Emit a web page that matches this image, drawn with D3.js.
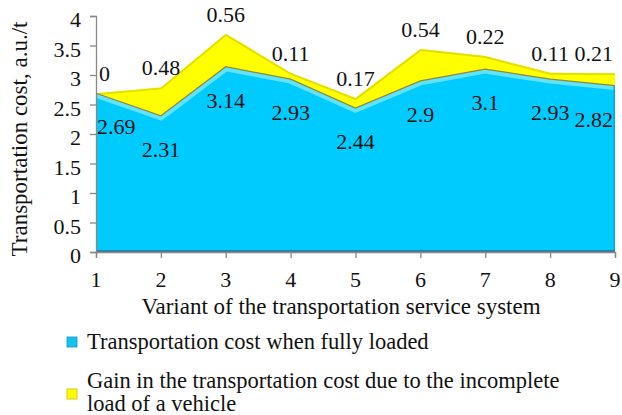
<!doctype html>
<html lang="en">
  <head>
    <meta charset="UTF-8" />
    <title>Transportation cost by variant</title>
    <script src="https://unpkg.com/d3@7.9.0/dist/d3.min.js"></script>
    <style>
      body {
        margin: 0;
        background: #fff;
        overflow: hidden;
      }
      svg text {
        fill: #111;
      }
      .tick-label {
        font-size: 22px;
      }
      .value-label {
        font-size: 22px;
      }
      .axis-title {
        font-size: 23px;
      }
      .legend text {
        font-size: 22.5px;
      }
    </style>
  </head>
  <body>
    <svg width="622" height="415"></svg>

    <script>
      // data
      const variants = [1, 2, 3, 4, 5, 6, 7, 8, 9];
      const fullLoadCost = [2.69, 2.31, 3.14, 2.93, 2.44, 2.9, 3.1, 2.93, 2.82];
      const incompleteGain = [0, 0.48, 0.56, 0.11, 0.17, 0.54, 0.22, 0.11, 0.21];
      const yTicks = [0, 0.5, 1, 1.5, 2, 2.5, 3, 3.5, 4];
      const seriesNames = [
        'Transportation cost when fully loaded',
        'Gain in the transportation cost due to the incomplete',
        'load of a vehicle',
      ];

      const serif = "'Liberation Serif', 'Times New Roman', 'DejaVu Serif', serif";
      const svg = d3.select('svg').attr('font-family', serif);
      const margin = { top: 16, right: 7, bottom: 163, left: 96 };
      const width = 622, height = 415;

      const x = d3
        .scalePoint()
        .domain(variants)
        .range([margin.left, width - margin.right]);
      const y = d3
        .scaleLinear()
        .domain([0, 4])
        .range([height - margin.bottom, margin.top]);

      const rows = variants.map((v, i) => ({
        v,
        base: fullLoadCost[i],
        gain: incompleteGain[i],
      }));

      // stacked areas
      const stack = d3.stack().keys(['base', 'gain'])(rows);

      const area = d3
        .area()
        .x((d) => x(d.data.v))
        .y0((d) => y(d[0]))
        .y1((d) => y(d[1]));

      const topLine = d3
        .line()
        .x((d) => x(d.data.v))
        .y((d) => y(d[1]));

      const defs = svg.append('defs');
      defs
        .append('clipPath')
        .attr('id', 'blueClip')
        .append('path')
        .attr('d', area(stack[0]));
      defs
        .append('clipPath')
        .attr('id', 'yellowClip')
        .append('path')
        .attr('d', area(stack[1]));

      // yellow (gain)
      svg.append('path').attr('d', area(stack[1])).attr('fill', '#ffff00');
      svg
        .append('path')
        .attr('d', topLine(stack[1]))
        .attr('fill', 'none')
        .attr('stroke', '#e3df00')
        .attr('stroke-width', 4)
        .attr('clip-path', 'url(#yellowClip)');

      // blue (full load)
      svg.append('path').attr('d', area(stack[0])).attr('fill', '#00cbff');
      svg
        .append('path')
        .attr('d', topLine(stack[0]))
        .attr('fill', 'none')
        .attr('stroke', '#5fe3ff')
        .attr('stroke-width', 9)
        .attr('clip-path', 'url(#blueClip)');
      svg
        .append('line')
        .attr('x1', x(9))
        .attr('x2', x(9))
        .attr('y1', y(0))
        .attr('y2', y(fullLoadCost[8]))
        .attr('stroke', '#0aa5d8')
        .attr('stroke-width', 3)
        .attr('clip-path', 'url(#blueClip)');
      svg
        .append('path')
        .attr('d', topLine(stack[0]))
        .attr('fill', 'none')
        .attr('stroke', '#8d8a3a')
        .attr('stroke-width', 1.2);
      svg
        .append('line')
        .attr('x1', x(1))
        .attr('x2', x(9))
        .attr('y1', y(0) - 1)
        .attr('y2', y(0) - 1)
        .attr('stroke', '#2f7ea3')
        .attr('stroke-width', 2);

      // axes
      const yAxis = svg
        .append('g')
        .attr('transform', `translate(${margin.left},0)`)
        .call(d3.axisLeft(y).tickValues(yTicks).tickSize(6).tickFormat(''));
      const xAxis = svg
        .append('g')
        .attr('transform', `translate(0,${y(0)})`)
        .call(d3.axisBottom(x).tickSize(6).tickFormat(''));
      [yAxis, xAxis].forEach((a) => {
        a.select('.domain').attr('stroke', '#888').attr('stroke-width', 1.3);
        a.selectAll('.tick line').attr('stroke', '#888').attr('stroke-width', 1.3);
      });

      svg
        .append('g')
        .selectAll('text')
        .data(yTicks)
        .join('text')
        .attr('class', 'tick-label')
        .attr('x', margin.left - 15)
        .attr('y', (d) => y(d) + 11)
        .attr('text-anchor', 'end')
        .text((d) => d);

      svg
        .append('g')
        .selectAll('text')
        .data(variants)
        .join('text')
        .attr('class', 'tick-label')
        .attr('x', (d) => x(d))
        .attr('y', y(0) + 35)
        .attr('text-anchor', 'middle')
        .text((d) => d);

      // value labels
      const anchorFor = (i) =>
        i === 0 ? 'start' : i === variants.length - 1 ? 'end' : 'middle';
      const nudge = (i) => (i === 0 ? 1 : i === variants.length - 1 ? -2 : 0);

      svg
        .append('g')
        .selectAll('text')
        .data(rows)
        .join('text')
        .attr('class', 'value-label')
        .attr('x', (d, i) => x(d.v) + nudge(i))
        .attr('y', (d) => y(d.base) + 41)
        .attr('text-anchor', (d, i) => anchorFor(i))
        .text((d) => d.base);

      svg
        .append('g')
        .selectAll('text')
        .data(rows)
        .join('text')
        .attr('class', 'value-label')
        .attr('x', (d, i) => x(d.v) + nudge(i) + (i === 0 ? 2 : 0))
        .attr('y', (d) => y(d.base + d.gain) - 12)
        .attr('text-anchor', (d, i) => anchorFor(i))
        .text((d) => d.gain);

      // axis titles
      svg
        .append('text')
        .attr('class', 'axis-title')
        .attr('transform', `translate(27,${(y(0) + y(4)) / 2 + 5}) rotate(-90)`)
        .attr('text-anchor', 'middle')
        .text('Transportation cost, a.u./t');

      svg
        .append('text')
        .attr('class', 'axis-title')
        .attr('x', 341)
        .attr('y', 314)
        .attr('text-anchor', 'middle')
        .text('Variant of the transportation service system');

      // legend
      const legend = svg.append('g').attr('class', 'legend');
      const swatch = (yy, fill, stroke) =>
        legend
          .append('rect')
          .attr('x', 67)
          .attr('y', yy)
          .attr('width', 10)
          .attr('height', 10)
          .attr('fill', fill)
          .attr('stroke', stroke)
          .attr('stroke-width', 0.8);
      swatch(337, '#11c3f3', '#1a8fc0');
      swatch(389, '#ffff00', '#c8c000');

      legend.append('text').attr('x', 87).attr('y', 349).text(seriesNames[0]);
      legend.append('text').attr('x', 87).attr('y', 388).text(seriesNames[1]);
      legend.append('text').attr('x', 87).attr('y', 411).text(seriesNames[2]);
    </script>
  </body>
</html>
